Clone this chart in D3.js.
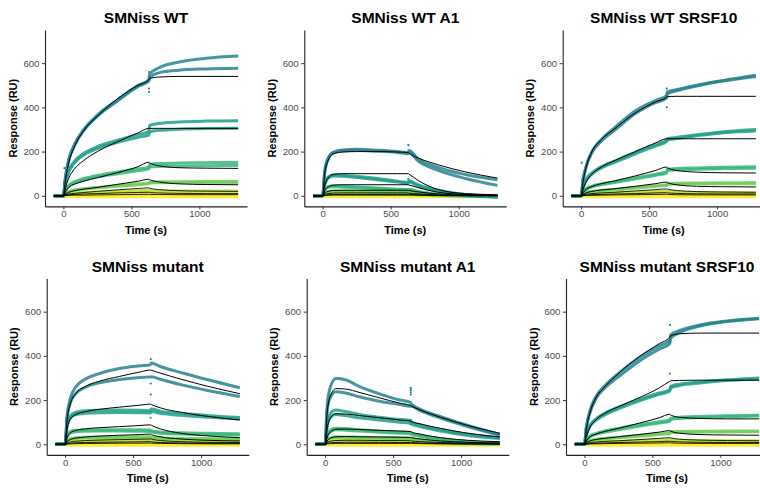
<!DOCTYPE html>
<html>
<head>
<meta charset="utf-8">
<script src="https://cdn.jsdelivr.net/npm/d3@7.9.0/dist/d3.min.js"></script>
<style>
  body { margin: 0; background: #fff; }
  svg text { font-family: "Liberation Sans", Arial, sans-serif; }
</style>
</head>
<body>
<svg id="chart" width="760" height="490"></svg>
<script>
// sample times (s) shared by every sensorgram below
const timeGrid = [-70, 0, 15, 40, 80, 150, 250, 400, 550, 628, 634, 700, 850, 1050, 1285];

const titles = ['SMNiss WT', 'SMNiss WT A1', 'SMNiss WT SRSF10',
  'SMNiss mutant', 'SMNiss mutant A1', 'SMNiss mutant SRSF10'];

// concentration level of each observed curve / fitted curve (0 = highest)
const obsLevels = [0, 0, 1, 1, 2, 2, 3, 3, 4, 5, 6, 7];
const fitLevels = [0, 1, 2, 3, 4, 5, 6];

const xTicks = [0, 500, 1000];
const yTicks = [0, 200, 400, 600];

const buffer = [0, 0, -3, -3, -4, -4, -4, -4, -4, -4, -4, -4, -4, -4, -4];

// SMNiss WT
const wtObs = [
  [0, 0, 85, 165, 230, 300, 365, 435, 500, 525, 550, 578, 605, 622, 632],
  [0, 0, 80, 160, 225, 295, 360, 430, 495, 518, 535, 556, 568, 574, 577],
  [0, 0, 60, 115, 155, 192, 222, 252, 278, 290, 318, 327, 334, 338, 340],
  [0, 0, 55, 108, 148, 185, 213, 242, 265, 275, 290, 296, 301, 304, 305],
  [0, 0, 25, 48, 63, 78, 92, 108, 122, 130, 142, 146, 148, 150, 151],
  [0, 0, 22, 44, 58, 72, 86, 100, 114, 122, 130, 133, 135, 136, 137],
  [0, 0, 10, 19, 26, 32, 38, 46, 54, 58, 62, 63, 64, 65, 65],
  [0, 0, 9, 17, 24, 30, 36, 43, 50, 55, 58, 59, 60, 60, 60],
  [0, 0, 4, 8, 11, 14, 17, 20, 23, 25, 24, 23, 22, 22, 22],
  [0, 0, 2, 4, 6, 8, 9, 11, 12, 13, 12, 11, 11, 11, 11],
  [0, 0, 1, 2, 3, 4, 4, 5, 5, 6, 5, 5, 5, 5, 5],
  buffer
];
const wtFit = [
  [0, 0, 70, 150, 220, 295, 360, 440, 500, 525, 530, 537, 540, 540, 540],
  [0, 0, 35, 80, 120, 160, 200, 245, 285, 305, 305, 305, 305, 305, 305],
  [0, 0, 18, 38, 52, 66, 82, 105, 132, 152, 149, 136, 127, 125, 124],
  [0, 0, 8, 16, 23, 30, 38, 52, 66, 75, 73, 63, 54, 51, 50],
  [0, 0, 4, 8, 11, 15, 20, 27, 33, 36, 34, 28, 23, 21, 20],
  [0, 0, 2, 4, 6, 8, 10, 13, 15, 16, 15, 13, 11, 10, 10],
  [0, 0, 1, 2, 3, 3, 4, 5, 6, 7, 6, 6, 5, 5, 5]
];
const wtSpikes = [[630, 470, 0], [630, 485, 0], [630, 560, 0], [8, 125, 0], [5, 60, 0]];

// SMNiss WT A1
const wtA1Obs = [
  [0, 0, 110, 170, 198, 207, 210, 206, 200, 195, 205, 168, 128, 96, 72],
  [0, 0, 105, 165, 195, 204, 206, 202, 196, 190, 196, 158, 115, 78, 47],
  [0, 0, 55, 85, 95, 93, 88, 78, 66, 60, 68, 50, 25, 6, -4],
  [0, 0, 50, 80, 90, 88, 83, 73, 62, 56, 62, 45, 20, 3, -6],
  [0, 0, 30, 42, 45, 43, 40, 35, 30, 28, 30, 20, 8, 0, -5],
  [0, 0, 27, 38, 41, 39, 36, 32, 27, 25, 27, 18, 6, -1, -5],
  [0, 0, 15, 20, 22, 21, 20, 18, 16, 15, 15, 10, 3, 0, -3],
  [0, 0, 13, 18, 20, 19, 18, 16, 14, 13, 13, 9, 2, 0, -3],
  [0, 0, 8, 10, 11, 11, 10, 9, 8, 8, 8, 5, 1, 0, -2],
  [0, 0, 4, 5, 5, 5, 5, 4, 4, 4, 4, 2, 0, 0, -1],
  [0, 0, 2, 2, 2, 2, 2, 2, 2, 2, 2, 1, 0, 0, 0],
  buffer
];
const wtA1Fit = [
  [0, 0, 100, 160, 190, 198, 200, 200, 198, 196, 193, 172, 140, 108, 80],
  [0, 0, 45, 80, 97, 100, 100, 100, 100, 100, 98, 70, 28, 10, 5],
  [0, 0, 22, 40, 48, 50, 50, 50, 50, 50, 49, 37, 16, 6, 3],
  [0, 0, 12, 20, 24, 25, 25, 25, 25, 25, 24, 18, 8, 3, 1],
  [0, 0, 6, 10, 12, 13, 13, 13, 13, 13, 12, 9, 4, 2, 1],
  [0, 0, 3, 5, 6, 6, 6, 6, 6, 6, 6, 5, 2, 1, 0],
  [0, 0, 1, 2, 3, 3, 3, 3, 3, 3, 3, 2, 1, 0, 0]
];
const wtA1Spikes = [[630, 230, 0], [630, 75, 1]];

// SMNiss WT SRSF10
const wtSrObs = [
  [0, 0, 75, 140, 200, 255, 310, 385, 432, 452, 470, 480, 500, 522, 545],
  [0, 0, 70, 135, 195, 248, 298, 372, 422, 442, 462, 475, 497, 520, 540],
  [0, 0, 40, 78, 104, 132, 158, 198, 233, 252, 258, 264, 276, 290, 300],
  [0, 0, 36, 72, 98, 126, 152, 190, 226, 245, 252, 259, 271, 285, 293],
  [0, 0, 18, 33, 44, 54, 64, 82, 98, 108, 120, 123, 126, 129, 131],
  [0, 0, 16, 30, 40, 50, 60, 77, 93, 103, 114, 117, 120, 123, 125],
  [0, 0, 8, 15, 20, 25, 30, 38, 46, 50, 56, 57, 58, 59, 60],
  [0, 0, 7, 13, 18, 23, 27, 35, 43, 47, 52, 53, 54, 55, 55],
  [0, 0, 4, 7, 9, 11, 13, 16, 19, 21, 20, 17, 15, 14, 13],
  [0, 0, 2, 3, 4, 5, 6, 7, 8, 9, 9, 8, 7, 7, 7],
  [0, 0, 1, 1, 2, 2, 2, 3, 3, 3, 3, 3, 3, 3, 3],
  buffer
];
const wtSrFit = [
  [0, 0, 65, 135, 200, 255, 305, 375, 425, 445, 448, 450, 450, 450, 450],
  [0, 0, 30, 65, 98, 130, 160, 200, 240, 258, 258, 258, 258, 258, 258],
  [0, 0, 14, 30, 42, 55, 68, 90, 115, 130, 127, 115, 107, 104, 103],
  [0, 0, 7, 14, 20, 26, 32, 43, 55, 62, 60, 50, 43, 41, 40],
  [0, 0, 3, 7, 10, 13, 16, 22, 28, 31, 30, 24, 19, 17, 16],
  [0, 0, 2, 3, 5, 6, 8, 10, 13, 14, 13, 11, 9, 8, 8],
  [0, 0, 1, 2, 2, 3, 4, 5, 6, 7, 6, 5, 4, 4, 4]
];
const wtSrSpikes = [[630, 400, 0], [630, 485, 0], [5, 150, 0], [10, 75, 0]];

// SMNiss mutant
const mutObs = [
  [0, 0, 130, 210, 260, 295, 320, 343, 355, 360, 368, 352, 325, 292, 256],
  [0, 0, 120, 190, 230, 258, 278, 293, 302, 305, 306, 294, 270, 243, 216],
  [0, 0, 90, 130, 145, 152, 154, 155, 154, 152, 160, 150, 140, 130, 121],
  [0, 0, 82, 120, 135, 140, 143, 144, 143, 142, 148, 140, 131, 122, 114],
  [0, 0, 40, 58, 63, 65, 66, 66, 66, 65, 62, 56, 52, 50, 48],
  [0, 0, 36, 52, 57, 59, 60, 60, 59, 58, 55, 50, 46, 44, 42],
  [0, 0, 18, 26, 30, 32, 33, 34, 34, 34, 32, 29, 27, 26, 25],
  [0, 0, 16, 23, 27, 29, 30, 30, 30, 30, 28, 25, 23, 22, 21],
  [0, 0, 8, 12, 14, 15, 16, 16, 16, 16, 15, 13, 11, 10, 10],
  [0, 0, 4, 6, 7, 7, 8, 8, 8, 8, 7, 6, 5, 5, 5],
  [0, 0, 2, 3, 3, 3, 3, 3, 3, 3, 3, 3, 2, 2, 2],
  buffer
];
const mutFit = [
  [0, 0, 110, 185, 230, 262, 285, 307, 327, 336, 335, 322, 295, 262, 229],
  [0, 0, 70, 115, 135, 148, 158, 168, 177, 182, 180, 165, 145, 126, 110],
  [0, 0, 30, 52, 63, 70, 75, 80, 85, 88, 86, 70, 50, 38, 30],
  [0, 0, 12, 22, 28, 33, 37, 41, 44, 46, 44, 34, 24, 18, 15],
  [0, 0, 6, 11, 14, 17, 19, 21, 23, 24, 23, 17, 12, 9, 8],
  [0, 0, 3, 5, 7, 8, 9, 10, 11, 12, 11, 8, 6, 5, 4],
  [0, 0, 1, 2, 3, 4, 4, 5, 5, 6, 5, 4, 3, 2, 2]
];
const mutSpikes = [[630, 385, 0], [630, 275, 0], [630, 225, 0], [630, 120, 1]];

// SMNiss mutant A1
const mutA1Obs = [
  [0, 0, 170, 262, 298, 292, 262, 228, 200, 190, 182, 158, 125, 85, 45],
  [0, 0, 150, 215, 238, 232, 215, 195, 180, 172, 172, 152, 118, 80, 40],
  [0, 0, 90, 140, 155, 148, 135, 122, 112, 108, 102, 88, 66, 45, 30],
  [0, 0, 80, 122, 135, 130, 120, 110, 100, 95, 92, 80, 60, 40, 26],
  [0, 0, 40, 65, 73, 71, 66, 60, 55, 53, 50, 40, 25, 12, 5],
  [0, 0, 36, 58, 66, 64, 60, 55, 50, 48, 45, 36, 22, 10, 4],
  [0, 0, 20, 30, 34, 33, 32, 30, 29, 28, 26, 20, 11, 5, 2],
  [0, 0, 18, 27, 31, 30, 29, 27, 26, 25, 23, 18, 10, 4, 1],
  [0, 0, 10, 15, 17, 17, 16, 15, 15, 14, 13, 10, 5, 2, 1],
  [0, 0, 5, 7, 8, 8, 8, 8, 7, 7, 6, 5, 2, 1, 0],
  [0, 0, 2, 3, 4, 4, 4, 4, 4, 3, 3, 2, 1, 0, 0],
  buffer
];
const mutA1Fit = [
  [0, 0, 140, 220, 252, 250, 235, 210, 186, 175, 173, 155, 122, 85, 50],
  [0, 0, 70, 120, 138, 137, 130, 120, 110, 105, 103, 92, 72, 50, 33],
  [0, 0, 32, 56, 68, 69, 67, 63, 60, 58, 56, 46, 30, 18, 12],
  [0, 0, 15, 28, 34, 35, 34, 33, 32, 31, 30, 24, 15, 9, 6],
  [0, 0, 8, 14, 17, 18, 18, 17, 17, 16, 15, 12, 8, 5, 3],
  [0, 0, 4, 7, 8, 9, 9, 9, 8, 8, 8, 6, 4, 2, 1],
  [0, 0, 2, 3, 4, 4, 4, 4, 4, 4, 4, 3, 2, 1, 1]
];
const mutA1Spikes = [[630, 255, 0], [630, 245, 0], [630, 235, 0], [630, 225, 0],
  [630, 110, 1], [630, 100, 1], [630, 90, 1]];

// SMNiss mutant SRSF10
const mutSrObs = [
  [0, 0, 80, 150, 210, 265, 320, 390, 445, 470, 495, 515, 540, 558, 570],
  [0, 0, 75, 140, 200, 255, 305, 375, 430, 455, 480, 505, 535, 555, 568],
  [0, 0, 45, 85, 112, 140, 168, 202, 232, 246, 262, 272, 282, 292, 300],
  [0, 0, 42, 80, 106, 133, 160, 195, 226, 240, 255, 266, 277, 288, 295],
  [0, 0, 20, 37, 48, 60, 72, 88, 102, 110, 118, 122, 126, 129, 131],
  [0, 0, 18, 34, 44, 55, 66, 82, 96, 104, 112, 117, 121, 125, 128],
  [0, 0, 9, 17, 22, 27, 32, 40, 48, 52, 57, 58, 59, 60, 60],
  [0, 0, 8, 15, 20, 24, 29, 36, 44, 48, 53, 54, 55, 56, 57],
  [0, 0, 4, 7, 9, 11, 13, 16, 20, 22, 20, 18, 17, 16, 16],
  [0, 0, 2, 3, 4, 5, 6, 7, 8, 9, 8, 8, 7, 7, 7],
  [0, 0, 1, 1, 2, 2, 2, 3, 3, 3, 3, 3, 3, 3, 3],
  buffer
];
const mutSrFit = [
  [0, 0, 70, 140, 205, 260, 320, 395, 455, 485, 490, 500, 503, 503, 503],
  [0, 0, 35, 75, 108, 140, 170, 210, 255, 285, 287, 289, 290, 290, 290],
  [0, 0, 15, 33, 45, 58, 72, 95, 120, 136, 133, 122, 117, 115, 115],
  [0, 0, 7, 15, 21, 27, 34, 44, 55, 62, 60, 50, 44, 42, 41],
  [0, 0, 3, 7, 10, 13, 16, 21, 27, 30, 29, 23, 19, 17, 16],
  [0, 0, 2, 3, 5, 6, 8, 10, 12, 14, 13, 11, 9, 8, 8],
  [0, 0, 1, 2, 2, 3, 4, 5, 6, 7, 6, 5, 4, 4, 4]
];
const mutSrSpikes = [[630, 540, 0], [630, 460, 0], [630, 320, 1], [8, 70, 0]];

const svg = d3.select('#chart');

const color = d3.scaleSequential(d3.interpolateViridis).domain([-4, 5]).clamp(true);

const panels = [
  { obs: wtObs, fit: wtFit, spikes: wtSpikes, left: 45, top: 30 },
  { obs: wtA1Obs, fit: wtA1Fit, spikes: wtA1Spikes, left: 304.3, top: 30 },
  { obs: wtSrObs, fit: wtSrFit, spikes: wtSrSpikes, left: 562.7, top: 30 },
  { obs: mutObs, fit: mutFit, spikes: mutSpikes, left: 46.7, top: 278.5 },
  { obs: mutA1Obs, fit: mutA1Fit, spikes: mutA1Spikes, left: 306.7, top: 278.5 },
  { obs: mutSrObs, fit: mutSrFit, spikes: mutSrSpikes, left: 566, top: 278.5 }
];

const plotW = 202;
const plotH = 176.4;

panels.forEach((p, pi) => {
  const x = d3.scaleLinear().domain([-135, 1350]).range([p.left, p.left + plotW]);
  const y = d3.scaleLinear().domain([-48, 750]).range([p.top + plotH, p.top]);

  const line = d3.line()
    .x((d, i) => x(timeGrid[i]))
    .y((d) => y(d))
    .curve(d3.curveMonotoneX);

  const g = svg.append('g');

  // observed responses, lowest concentration first
  const order = d3.range(p.obs.length).reverse();
  g.selectAll('path.obs')
    .data(order)
    .join('path')
    .attr('class', 'obs')
    .attr('d', (i) => line(p.obs[i]))
    .attr('fill', 'none')
    .attr('stroke', (i) => color(obsLevels[i]))
    .attr('stroke-width', 3)
    .attr('stroke-opacity', 0.85)
    .attr('stroke-linejoin', 'round');

  g.selectAll('circle.spike')
    .data(p.spikes)
    .join('circle')
    .attr('class', 'spike')
    .attr('cx', (d) => x(d[0]))
    .attr('cy', (d) => y(d[1]))
    .attr('r', 1.1)
    .attr('fill', (d) => color(d[2]));

  // fitted curves
  g.selectAll('path.fit')
    .data(p.fit)
    .join('path')
    .attr('class', 'fit')
    .attr('d', line)
    .attr('fill', 'none')
    .attr('stroke', '#000')
    .attr('stroke-width', 1)
    .attr('stroke-opacity', (d, i) => (fitLevels[i] > 3 ? 0.85 : 1));

  const xAxis = g.append('g')
    .attr('transform', `translate(0,${p.top + plotH})`)
    .call(d3.axisBottom(x).tickValues(xTicks).tickFormat(d3.format('d'))
      .tickSize(3).tickSizeOuter(0).tickPadding(1.2));
  const yAxis = g.append('g')
    .attr('transform', `translate(${p.left},0)`)
    .call(d3.axisLeft(y).tickValues(yTicks).tickSize(3).tickSizeOuter(0).tickPadding(2.6));

  [xAxis, yAxis].forEach((a) => {
    a.select('.domain').attr('stroke', '#222').attr('stroke-width', 1.1);
    a.selectAll('.tick line').attr('stroke', '#333');
    a.selectAll('.tick text')
      .attr('fill', '#4d4d4d')
      .style('font-size', '9.6px');
  });

  g.append('text')
    .attr('x', p.left + plotW / 2)
    .attr('y', p.top - 7)
    .attr('text-anchor', 'middle')
    .style('font-size', '15.5px')
    .style('font-weight', 'bold')
    .text(titles[pi]);

  g.append('text')
    .attr('x', p.left + plotW / 2)
    .attr('y', p.top + plotH + 27.5)
    .attr('text-anchor', 'middle')
    .style('font-size', '11px')
    .style('font-weight', 'bold')
    .text('Time (s)');

  g.append('text')
    .attr('transform', `translate(${p.left - 28.3},${p.top + plotH / 2}) rotate(-90)`)
    .attr('text-anchor', 'middle')
    .style('font-size', '11px')
    .style('font-weight', 'bold')
    .text('Response (RU)');
});
</script>
</body>
</html>
